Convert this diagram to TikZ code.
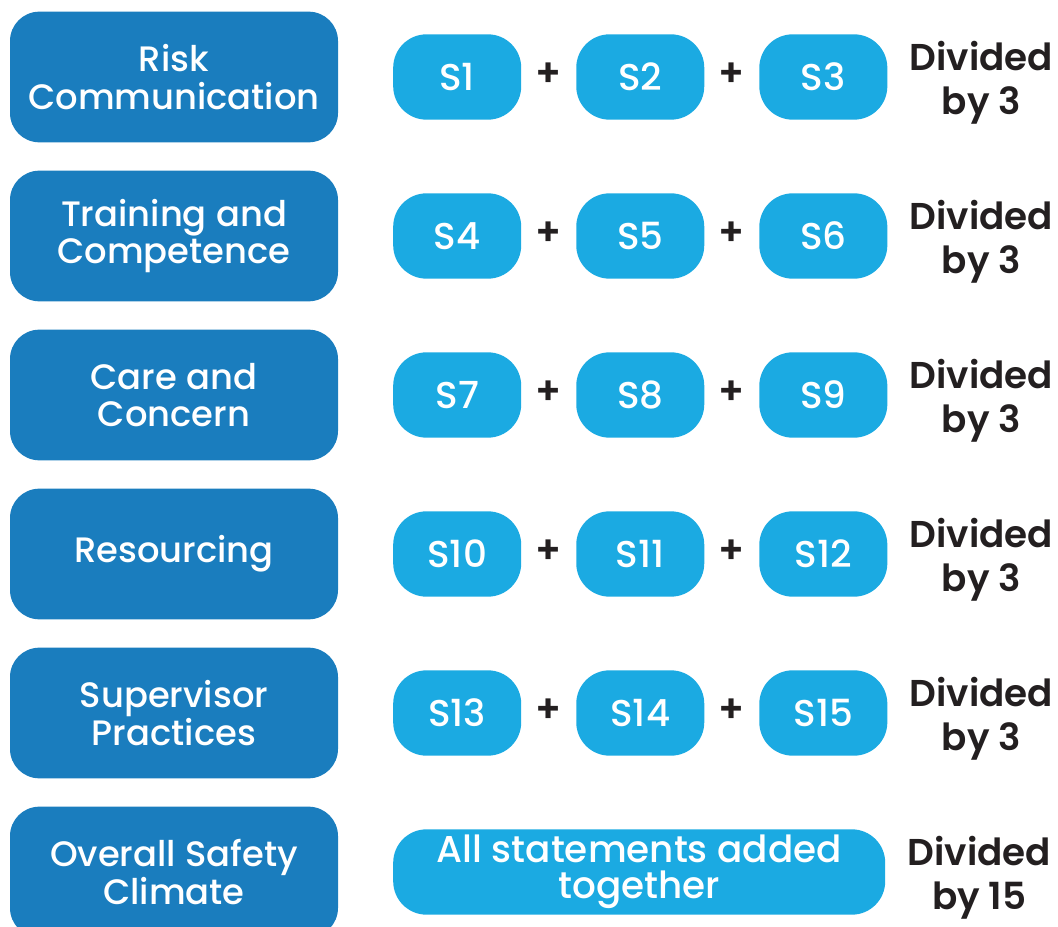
\documentclass[tikz,border=0pt]{standalone}
\usepackage{fontspec}
\setmainfont{Poppins}[UprightFont=* Medium, BoldFont=* SemiBold]
\usetikzlibrary{positioning}

\definecolor{factorblue}{HTML}{1A7DBE}
\definecolor{itemblue}{HTML}{1BAAE2}
\definecolor{inkgray}{HTML}{231F20}

\begin{document}
\begin{tikzpicture}[x=0.75pt, y=-0.75pt, node distance=0pt]
    \tikzstyle{factor} = [rectangle, rounded corners=22pt, minimum width=246pt, minimum height=98pt, align=center, fill=factorblue, text=white, font=\fontsize{26.5}{28}\selectfont]
    \tikzstyle{item} = [rectangle, rounded corners=25pt, minimum width=96pt, minimum height=64pt, align=center, fill=itemblue, text=white, font=\fontsize{28}{27}\selectfont]
    \tikzstyle{plus} = [minimum width=40.5pt, inner sep=0pt, text=inkgray, font=\bfseries\fontsize{29}{29}\selectfont]
    \tikzstyle{divby} = [align=center, text=inkgray, font=\bfseries\fontsize{28}{33}\selectfont]

    \useasboundingbox (0,0) rectangle (1058,927);

    % five factors, three statements each
    \foreach \y/\name/\a/\b/\c in {77/{Risk\\Communication}/1/2/3,
                                   236/{Training and\\Competence}/4/5/6,
                                   395/{Care and\\Concern}/7/8/9,
                                   554/{Resourcing}/10/11/12,
                                   713/{Supervisor\\Practices}/13/14/15} {
        \node (f\a) [factor] at (174,\y) {\name};
        \node (s\a) [item, right=41pt of f\a] {S\a};
        \node (p\a) [plus, right=of s\a, yshift=2pt] {+};
        \node (s\b) [item, right=of p\a, yshift=-2pt] {S\b};
        \node (p\b) [plus, right=of s\b, yshift=2pt] {+};
        \node (s\c) [item, right=of p\b, yshift=-2pt] {S\c};
        \node (d\a) [divby, right=13pt of s\c, yshift=-4pt] {Divided\\by 3};
    }

    % overall score
    \node (overall) [factor] at (174,872) {Overall Safety\\Climate};
    \node (allst) [item, right=41pt of overall, minimum width=369pt] {All statements added\\together};
    \node (dall) [divby, right=13pt of allst, yshift=-4pt] {Divided\\by 15};
\end{tikzpicture}
\end{document}
